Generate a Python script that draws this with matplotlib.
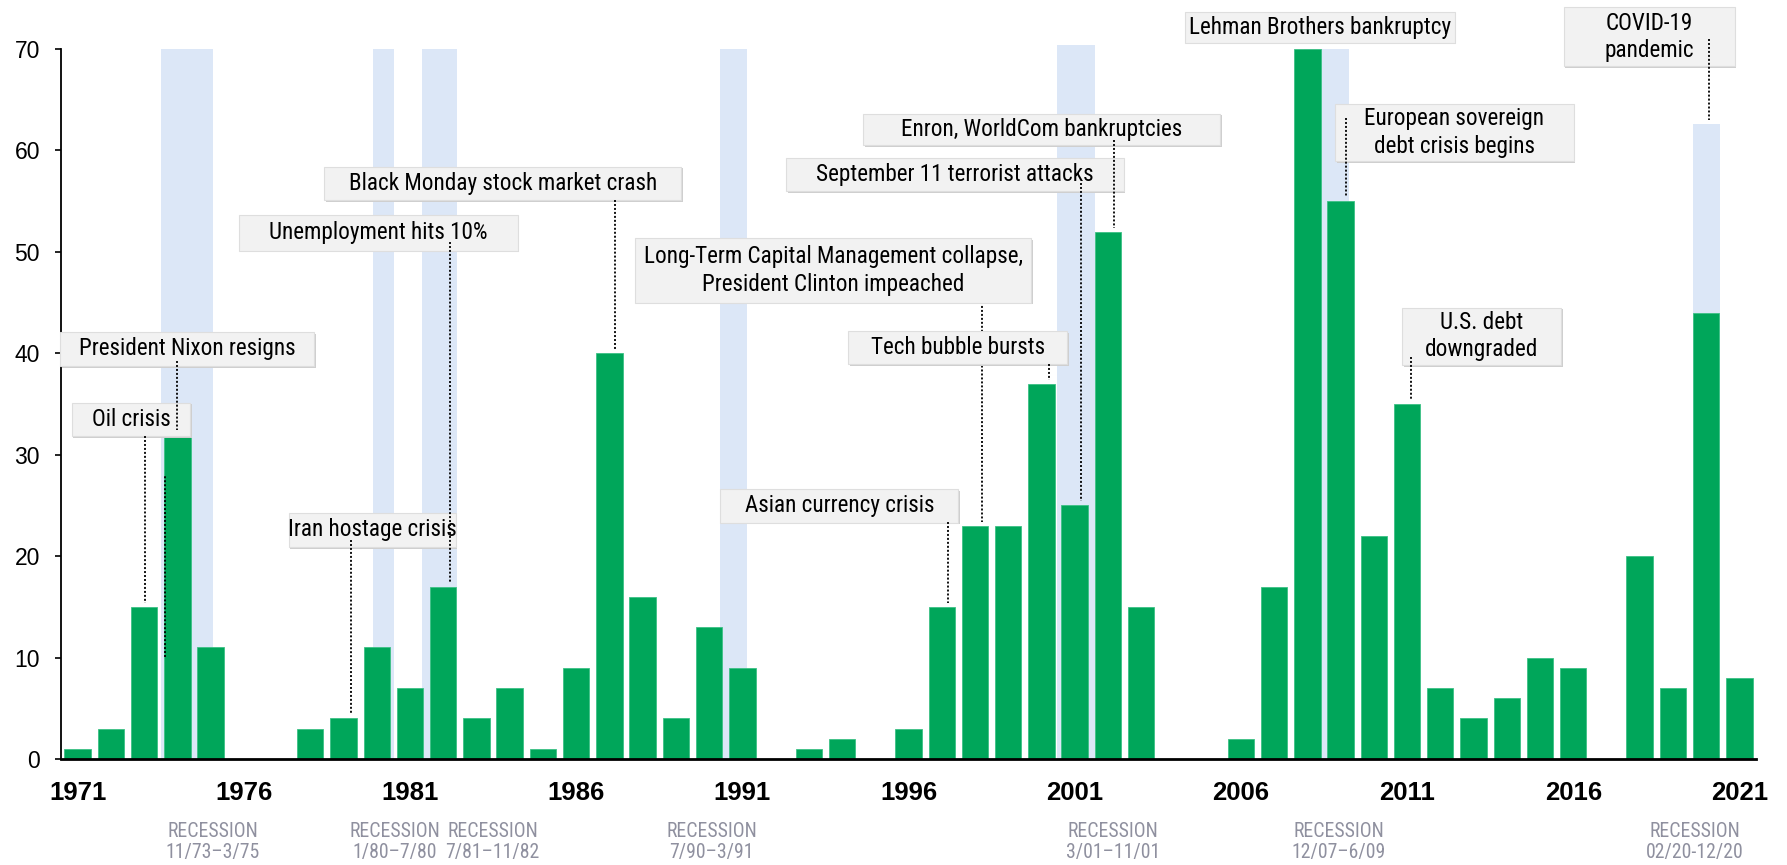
import matplotlib
matplotlib.use("Agg")
import matplotlib.pyplot as plt
import matplotlib.transforms as mtransforms
from matplotlib.patches import Rectangle
from matplotlib import font_manager
from matplotlib.font_manager import FontProperties
from matplotlib.textpath import TextPath

# ---------------------------------------------------------------- data
years = list(range(1971, 2022))
counts = [1, 3, 15, 32, 11, 0, 0, 3, 4, 11,
          7, 17, 4, 7, 1, 9, 40, 16, 4, 13,
          9, 0, 1, 2, 0, 3, 15, 23, 23, 37,
          25, 52, 15, 0, 0, 2, 17, 70, 55, 22,
          35, 7, 4, 6, 10, 9, 0, 20, 7, 44, 8]

tick_years = [1971, 1976, 1981, 1986, 1991, 1996, 2001, 2006, 2011, 2016, 2021]

recession_dates = ["11/73\u20133/75", "1/80\u20137/80", "7/81\u201311/82", "7/90\u20133/91",
                   "3/01\u201311/01", "12/07\u20136/09", "02/20-12/20"]

event_labels = ["Oil crisis", "President Nixon resigns", "Iran hostage crisis",
                "Unemployment hits 10%", "Black Monday stock market crash",
                "Long-Term Capital Management collapse,\nPresident Clinton impeached",
                "Tech bubble bursts", "September 11 terrorist attacks",
                "Enron, WorldCom bankruptcies", "Asian currency crisis",
                "Lehman Brothers bankruptcy", "European sovereign\ndebt crisis begins",
                "U.S. debt\ndowngraded", "COVID-19\npandemic"]
event_years = [1973, 1974, 1979, 1982, 1987, 1998, 2000, 2001, 2002, 1997,
               2008, 2009, 2011, 2020]

# ---------------------------------------------------------------- layout
# shaded recession spans on the year axis: (left, right, top)
band_spans = [(1973.52, 1975.08, 70), (1979.88, 1980.51, 70), (1981.35, 1982.40, 70),
              (1990.32, 1991.13, 70), (2000.48, 2001.62, 70.4), (2007.9, 2009.24, 70),
              (2019.61, 2020.41, 62.6)]
band_label_x = [1975.07, 1980.54, 1983.48, 1990.07, 2002.16, 2008.95, 2019.67]

# callout boxes: (x0, x1, y0, y1) in data units
boxes = [(1970.82, 1974.39, 31.85, 35.13),
         (1970.47, 1978.12, 38.75, 42.10),
         (1977.35, 1982.37, 20.90, 24.28),
         (1975.87, 1984.24, 50.10, 53.63),
         (1978.42, 1989.16, 55.11, 58.40),
         (1987.78, 1999.69, 44.99, 51.33),
         (1994.19, 2000.77, 38.94, 42.20),
         (1992.32, 2002.47, 56.00, 59.28),
         (1994.64, 2005.38, 60.53, 63.62),
         (1990.34, 1997.50, 23.30, 26.59),
         (2004.32, 2012.43, 70.62, 73.68),
         (2008.83, 2016.01, 58.93, 64.60),
         (2010.85, 2015.64, 38.84, 44.50),
         (2015.71, 2020.86, 68.30, 74.10)]
# leader line: (x offset from bar centre, top of line); None = no leader
leaders = [(0.03, 31.85), (0.0, 39.2), (0.22, 21.6), (0.2, 51.0), (0.18, 55.1),
           (0.22, 45.45), (0.23, 38.94), (0.2, 56.8), (0.17, 61.0), (0.18, 23.37),
           None, (0.17, 63.2), (0.13, 39.66), (0.08, 70.95)]
covid_band_top = 62.6

BAR_GREEN = "#00a65a"
BAND_BLUE = "#dce7f7"
BOX_FILL = "#f2f2f2"
REC_GREY = "#8f909f"

DPI = 100


def pick_narrow_font():
    """Return FontProperties for a condensed sans face if one is installed."""
    wanted = ["liberation sans narrow", "arial narrow", "roboto condensed",
              "open sans condensed", "noto sans condensed", "dejavu sans condensed"]
    entries = font_manager.fontManager.ttflist
    for w in wanted:
        for f in entries:
            fname = f.fname.lower().replace("-", " ").replace("_", " ")
            full = (f.name + " " + str(f.stretch)).lower()
            regular = f.weight in (400, "normal", "regular") and f.style == "normal"
            if not regular:
                continue
            if w in f.name.lower() or w.replace(" ", "") in fname.replace(" ", ""):
                return FontProperties(fname=f.fname)
            if w.startswith(f.name.lower()) and "condensed" in full and "condensed" in w:
                return FontProperties(fname=f.fname)
    return FontProperties(family="Liberation Sans")


def text_width_px(s, prop, size):
    return TextPath((0, 0), s, size=size, prop=prop).get_extents().width * DPI / 72.0


def fitted_size(nominal, sample, target_px, prop):
    """Point size whose set width of `sample` is close to target_px."""
    ratio = target_px / text_width_px(sample, prop, nominal)
    return nominal * max(0.8, min(1.06, ratio))


narrow = pick_narrow_font()
note_size = fitted_size(16.8, "Black Monday stock market crash", 305.0, narrow)
cap_size = fitted_size(13.4, "RECESSION", 90.0, narrow)

SANS = "Liberation Sans"

# ---------------------------------------------------------------- figure
fig = plt.figure(figsize=(17.87, 8.65), dpi=DPI)
ax = fig.add_axes([0.03414, 0.12254, 0.94851, 0.82081])
ax.set_xlim(1970.5, 2021.5)
ax.set_ylim(0, 70)

# recession bands
for (x0, x1, top) in band_spans:
    ax.add_patch(Rectangle((x0, 0), x1 - x0, top, facecolor=BAND_BLUE,
                           edgecolor="none", zorder=1, clip_on=False))

# bars
ax.bar(years, counts, width=0.795, color=BAR_GREEN, edgecolor="#3cc185",
       linewidth=0.6, zorder=2)

value_of = dict(zip(years, counts))

# callout boxes
shadow_tf = mtransforms.offset_copy(ax.transData, fig=fig, x=1.6, y=-1.6, units="dots")
for label, (x0, x1, y0, y1) in zip(event_labels, boxes):
    ax.add_patch(Rectangle((x0, y0), x1 - x0, y1 - y0, transform=shadow_tf,
                           facecolor="#cfcfcf", edgecolor="none", zorder=4, clip_on=False))
    ax.add_patch(Rectangle((x0, y0), x1 - x0, y1 - y0, facecolor=BOX_FILL,
                           edgecolor="#dedede", linewidth=0.8, zorder=5, clip_on=False))
    ax.text((x0 + x1) / 2, (y0 + y1) / 2, label, ha="center", va="center",
            fontproperties=narrow, fontsize=note_size, color="black",
            linespacing=1.22 * 16.8 / note_size, zorder=6, clip_on=False)

# dotted leader lines
dot = dict(color="black", linestyle=(0, (1.1, 1.1)), linewidth=1.3, clip_on=False)
for label, yr, lead in zip(event_labels, event_years, leaders):
    if lead is None:
        continue
    dx, ytop = lead
    ybot = (covid_band_top if yr == 2020 else value_of[yr]) + 0.4
    z = 3 if label.startswith("Long-Term") else 7
    ax.plot([yr + dx, yr + dx], [ytop, ybot], zorder=z, **dot)
# stray guide drawn inside the 1974 bar
ax.plot([1973.62, 1973.62], [10.06, 27.9], zorder=3, **dot)

# axes styling
for s in ("top", "right"):
    ax.spines[s].set_visible(False)
ax.spines["left"].set_linewidth(1.3)
ax.spines["bottom"].set_linewidth(2.0)
ax.spines["bottom"].set_zorder(8)

ax.set_yticks(range(0, 71, 10))
ax.tick_params(axis="y", length=4.6, width=1.2, pad=10.5, labelsize=16.5)
for t in ax.get_yticklabels():
    t.set_family(SANS)

ax.set_xticks(tick_years)
ax.set_xticklabels([str(y) for y in tick_years])
ax.tick_params(axis="x", length=0, pad=16, labelsize=18.5)
for t in ax.get_xticklabels():
    t.set_family(SANS)
    t.set_fontweight("bold")

# recession captions beneath the axis
cap_tf = mtransforms.blended_transform_factory(ax.transData, fig.transFigure)
for x, dates in zip(band_label_x, recession_dates):
    ax.text(x, 0.0266, "RECESSION\n" + dates, transform=cap_tf, ha="center",
            va="center", fontproperties=narrow, fontsize=cap_size, color=REC_GREY,
            linespacing=1.18 * 13.4 / cap_size, clip_on=False)

fig.savefig("out.png", dpi=DPI)
